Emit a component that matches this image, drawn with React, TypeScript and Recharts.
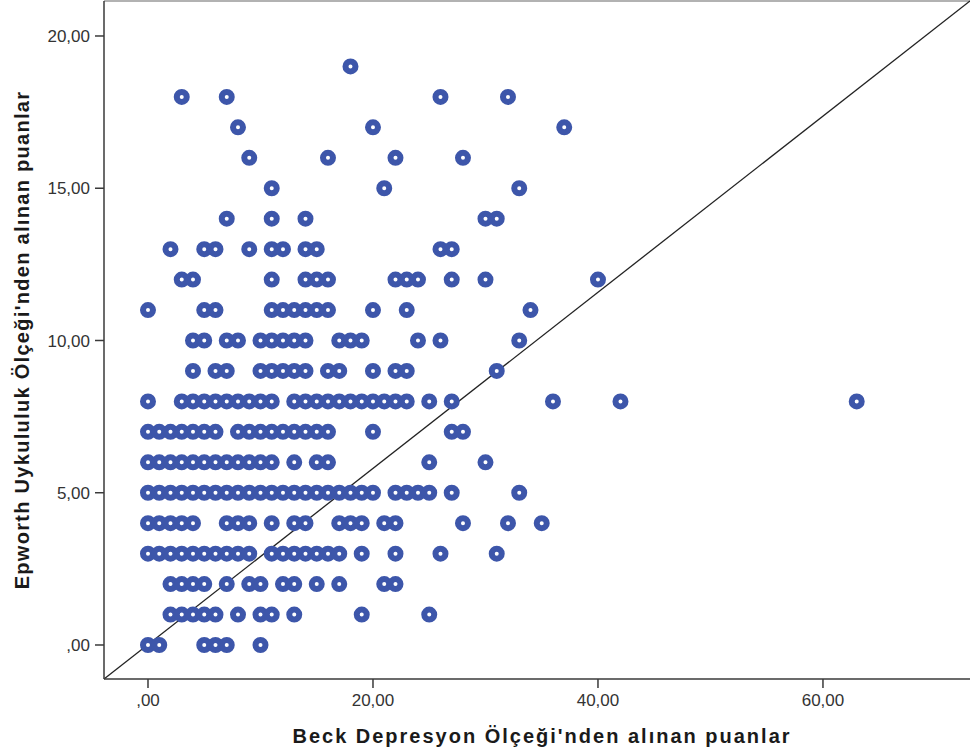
import { ScatterChart, Scatter, XAxis, YAxis, ReferenceLine } from "recharts";

// Beck scores (x) found at each Epworth score (y)
const beckAtEpworth0 = [0, 1, 5, 6, 7, 10];
const beckAtEpworth1 = [2, 3, 4, 5, 6, 8, 10, 11, 13, 19, 25];
const beckAtEpworth2 = [2, 3, 4, 5, 7, 9, 10, 12, 13, 15, 17, 21, 22];
const beckAtEpworth3 = [0, 1, 2, 3, 4, 5, 6, 7, 8, 9, 11, 12, 13, 14, 15, 16, 17, 19, 22, 26, 31];
const beckAtEpworth4 = [0, 1, 2, 3, 4, 7, 8, 9, 11, 13, 14, 17, 18, 19, 21, 22, 28, 32, 35];
const beckAtEpworth5 = [0, 1, 2, 3, 4, 5, 6, 7, 8, 9, 10, 11, 12, 13, 14, 15, 16, 17, 18, 19, 20, 22, 23, 24, 25, 27, 33];
const beckAtEpworth6 = [0, 1, 2, 3, 4, 5, 6, 7, 8, 9, 10, 11, 13, 15, 16, 25, 30];
const beckAtEpworth7 = [0, 1, 2, 3, 4, 5, 6, 8, 9, 10, 11, 12, 13, 14, 15, 16, 20, 27, 28];
const beckAtEpworth8 = [0, 3, 4, 5, 6, 7, 8, 9, 10, 11, 13, 14, 15, 16, 17, 18, 19, 20, 21, 22, 23, 25, 27, 36, 42, 63];
const beckAtEpworth9 = [4, 6, 7, 10, 11, 12, 13, 14, 16, 17, 20, 22, 23, 31];
const beckAtEpworth10 = [4, 5, 7, 8, 10, 11, 12, 13, 14, 17, 18, 19, 24, 26, 33];
const beckAtEpworth11 = [0, 5, 6, 11, 12, 13, 14, 15, 16, 20, 23, 34];
const beckAtEpworth12 = [3, 4, 11, 14, 15, 16, 22, 23, 24, 27, 30, 40];
const beckAtEpworth13 = [2, 5, 6, 9, 11, 12, 14, 15, 26, 27];
const beckAtEpworth14 = [7, 11, 14, 30, 31];
const beckAtEpworth15 = [11, 21, 33];
const beckAtEpworth16 = [9, 16, 22, 28];
const beckAtEpworth17 = [8, 20, 37];
const beckAtEpworth18 = [3, 7, 26, 32];
const beckAtEpworth19 = [18];

const beckRows = [
  beckAtEpworth0, beckAtEpworth1, beckAtEpworth2, beckAtEpworth3, beckAtEpworth4,
  beckAtEpworth5, beckAtEpworth6, beckAtEpworth7, beckAtEpworth8, beckAtEpworth9,
  beckAtEpworth10, beckAtEpworth11, beckAtEpworth12, beckAtEpworth13, beckAtEpworth14,
  beckAtEpworth15, beckAtEpworth16, beckAtEpworth17, beckAtEpworth18, beckAtEpworth19,
];

const xTicks = [0, 20, 40, 60];
const yTicks = [0, 5, 10, 15, 20];

const points = beckRows.flatMap((row, epworth) => row.map((beck) => ({ x: beck, y: epworth })));

const X_MIN = -3.911;
const X_MAX = 73.07;
const Y_MIN = -1.117;
const Y_MAX = 21.149;

const BLUE = "#3d56aa";
const AXIS = "#3a3a3a";
const tickStyle = { fontFamily: "'Liberation Sans', Arial, sans-serif", fontSize: 17, fill: "#333" };
const titleStyle = {
  position: "absolute" as const,
  fontFamily: "'Liberation Sans', Arial, sans-serif",
  fontSize: 20,
  fontWeight: 700,
  color: "#1a1a1a",
  whiteSpace: "nowrap" as const,
  lineHeight: "24px",
};

const fmt = (v: number) => (v === 0 ? ",00" : `${v},00`);

function Ring(props: any) {
  const { cx, cy } = props;
  if (cx == null || cy == null) return null;
  return <circle cx={cx} cy={cy} r={5} fill="#fff" stroke={BLUE} strokeWidth={6} />;
}

export default function App() {
  return (
    <div style={{ position: "absolute", left: 0, top: 0, width: 970, height: 756, background: "#fff" }}>
      <ScatterChart width={970} height={756} margin={{ top: 1, right: 0, bottom: 0, left: 0 }}>
        <XAxis
          type="number"
          dataKey="x"
          domain={[X_MIN, X_MAX]}
          allowDataOverflow
          ticks={xTicks}
          tickFormatter={fmt}
          height={77}
          tickSize={9}
          tickMargin={6}
          stroke={AXIS}
          strokeWidth={1.5}
          tick={tickStyle}
        />
        <YAxis
          type="number"
          dataKey="y"
          domain={[Y_MIN, Y_MAX]}
          allowDataOverflow
          ticks={yTicks}
          tickFormatter={fmt}
          width={104}
          tickSize={9}
          tickMargin={5}
          stroke={AXIS}
          strokeWidth={1.5}
          tick={tickStyle}
        />
        <ReferenceLine y={Y_MAX} stroke="#999" strokeWidth={1.5} ifOverflow="visible" />
        <Scatter data={points} shape={Ring} isAnimationActive={false} />
        <ReferenceLine
          segment={[{ x: X_MIN, y: Y_MIN }, { x: X_MAX, y: Y_MAX }]}
          stroke="#222"
          strokeWidth={1.3}
          ifOverflow="visible"
        />
      </ScatterChart>
      <div style={{ ...titleStyle, left: 0, width: 1084, top: 724, textAlign: "center", letterSpacing: 2 }}>
        Beck Depresyon Ölçeği'nden alınan puanlar
      </div>
      <div
        style={{
          ...titleStyle,
          left: 22,
          top: 340,
          letterSpacing: 1.3,
          transform: "translate(-50%, -50%) rotate(-90deg)",
        }}
      >
        Epworth Uykululuk Ölçeği'nden alınan puanlar
      </div>
    </div>
  );
}
